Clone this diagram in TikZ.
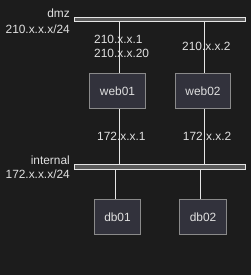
\documentclass[tikz,border=0pt]{standalone}
\usepackage{fontspec}
\setmainfont{Liberation Sans}
\usepackage{xcolor}
\definecolor{bgdark}{HTML}{1C1C1C}
\definecolor{boxfill}{HTML}{32323C}
\definecolor{boxline}{HTML}{8A8A8A}
\definecolor{barfill}{HTML}{5A5A5A}
\definecolor{txtlight}{HTML}{E0E0E0}

\begin{document}
\begin{tikzpicture}[
    x=1pt, y=-1pt,
    host/.style={draw=boxline, fill=boxfill, line width=0.8pt, minimum height=35pt, text=txtlight, font=\fontsize{11.9}{13}\selectfont},
    netbar/.style={draw=white!90!black, fill=barfill, line width=0.8pt, minimum width=171pt, minimum height=4.6pt, inner sep=0pt},
    label/.style={text=txtlight, font=\fontsize{11.9}{14}\selectfont, inner sep=0pt},
    link/.style={draw=white!90!black, line width=0.8pt}
]
\fill[bgdark] (0,0) rectangle (251,275);
\useasboundingbox (0,0) rectangle (251,275);
% networks
\node[netbar] (dmz) at (160.3,19.6) {};
\node[netbar] (internal) at (160.3,166.8) {};
\node[label, anchor=east] (dmzname) at (70,13) {dmz};
\node[label, anchor=east] (dmzaddr) at (70,29) {210.x.x.x/24};
\node[label, anchor=east] (intname) at (70,160) {internal};
\node[label, anchor=east] (intaddr) at (70,174.7) {172.x.x.x/24};
% hosts
\node[host, minimum width=56.4pt] (web01) at (117.5,90.8) {web01};
\node[host, minimum width=55.4pt] (web02) at (203,90.8) {web02};
\node[host, minimum width=46.4pt] (db01) at (117.5,216.8) {db01};
\node[host, minimum width=47.4pt] (db02) at (203,216.8) {db02};
% links
\draw[link] ([xshift=2.2pt]web01.north) -- ([xshift=2.2pt]web01.north |- dmz.south);
\draw[link] ([xshift=1.7pt]web02.north) -- ([xshift=1.7pt]web02.north |- dmz.south);
\draw[link] ([xshift=2.2pt]web01.south) -- ([xshift=2.2pt]web01.south |- internal.north);
\draw[link] ([xshift=1.7pt]web02.south) -- ([xshift=1.7pt]web02.south |- internal.north);
\draw[link] ([xshift=-1.8pt]db01.north) -- ([xshift=-1.8pt]db01.north |- internal.south);
\draw[link] ([xshift=-2.7pt]db02.north) -- ([xshift=-2.7pt]db02.north |- internal.south);
% addresses
\node[label, anchor=west, align=left] (web01dmz) at (94,46) {210.x.x.1\\210.x.x.20};
\node[label, anchor=west] (web02dmz) at (182,46.7) {210.x.x.2};
\node[label, anchor=west] (web01int) at (97,136.7) {172.x.x.1};
\node[label, anchor=west] (web02int) at (182.7,136.7) {172.x.x.2};
\end{tikzpicture}
\end{document}
